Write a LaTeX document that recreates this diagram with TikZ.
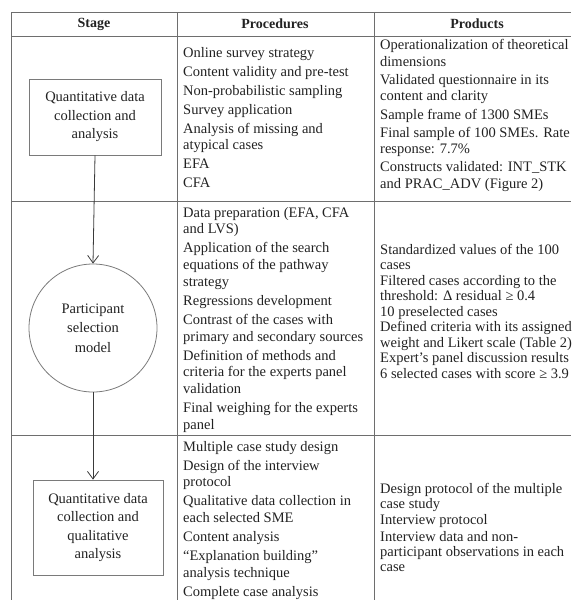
\documentclass[tikz,border=0pt]{standalone}
\usepackage{fontspec}
\setmainfont{Liberation Serif}
\usetikzlibrary{arrows.meta}
\definecolor{gridcol}{HTML}{6E6E6E}
\definecolor{boxcol}{HTML}{7A7A7A}
\definecolor{arrcol}{HTML}{3A3A3A}
\definecolor{txt}{HTML}{222222}
\begin{document}
\begin{tikzpicture}[x=1pt,y=-1pt,
  grid/.style={draw=gridcol,line width=0.9pt},
  cell/.style={anchor=north west,inner sep=0pt,align=left,text=txt,font=\fontsize{14.5}{16.7}\selectfont},
  tightcell/.style={cell,font=\fontsize{14.5}{15.2}\selectfont},
  head/.style={inner sep=0pt,text=txt,font=\fontsize{14}{16}\selectfont\bfseries},
  stagebox/.style={draw=boxcol,line width=0.8pt,rectangle,align=center,text=txt,inner sep=0pt,font=\fontsize{14.5}{18.5}\selectfont},
  stagecirc/.style={draw=boxcol,line width=0.8pt,circle,minimum size=128pt,inner sep=0pt,align=center,text=txt,font=\fontsize{14.5}{19.5}\selectfont},
  arr/.style={draw=arrcol,line width=0.8pt,-{Straight Barb[length=7.5pt,width=11pt]}}
]
\useasboundingbox (0,0) rectangle (571,600);
% table grid
\draw[grid] (11,12) -- (571,12);
\draw[grid] (11,36) -- (571,36);
\draw[grid] (11,201) -- (571,201);
\draw[grid] (11,435) -- (571,435);
\draw[grid] (11,12) -- (11,600);
\draw[grid] (177,12) -- (177,600);
\draw[grid] (374,12) -- (374,600);
% header
\node[head] (hstage) at (94,24) {Stage};
\node[head] (hproc) at (275,24) {Procedures};
\node[head] (hprod) at (477,24) {Products};
% stages
\node[stagebox,minimum width=132pt,minimum height=76pt] (s1) at (95,117) {Quantitative data\\collection and\\analysis};
\node[stagecirc] (s2) at (93,328) {Participant\\selection\\model};
\node[stagebox,minimum width=130pt,minimum height=95pt] (s3) at (98,527.5) {Quantitative data\\collection and\\qualitative\\analysis};
\draw[arr] (s1.south) -- (s2.north);
\draw[arr] (s2.south) -- (s2.south |- s3.north);
% row 1
\node[cell] (p1) at (183,47) {Online survey strategy\\[2.3pt]
Content validity and pre-test\\[2.3pt]
Non-probabilistic sampling\\[2.3pt]
Survey application\\[2.3pt]
Analysis of missing and\\
atypical cases\\[2.3pt]
EFA\\[2.3pt]
CFA};
\node[cell] (q1) at (380,39) {Operationalization of theoretical\\
dimensions\\[1.4pt]
Validated questionnaire in its\\
content and clarity\\[1.4pt]
Sample frame of 1300 SMEs\\[1.4pt]
Final sample of 100 SMEs. Rate\\
response: 7.7\%\\[1.4pt]
Constructs validated: INT\_STK\\
and PRAC\_ADV (Figure 2)};
% row 2
\node[cell] (p2) at (183,207) {Data preparation (EFA, CFA\\
and LVS)\\[2.3pt]
Application of the search\\
equations of the pathway\\
strategy\\[2.3pt]
Regressions development\\[2.3pt]
Contrast of the cases with\\
primary and secondary sources\\[2.3pt]
Definition of methods and\\
criteria for the experts panel\\
validation\\[2.3pt]
Final weighing for the experts\\
panel};
\node[tightcell] (q2) at (380,244) {Standardized values of the 100\\
cases\\[0.5pt]
Filtered cases according to the\\
threshold: Δ residual ≥ 0.4\\[0.5pt]
10 preselected cases\\[0.5pt]
Defined criteria with its assigned\\
weight and Likert scale (Table 2)\\[0.5pt]
Expert’s panel discussion results\\[0.5pt]
6 selected cases with score ≥ 3.9};
% row 3
\node[cell] (p3) at (183,441) {Multiple case study design\\[2.3pt]
Design of the interview\\
protocol\\[2.3pt]
Qualitative data collection in\\
each selected SME\\[2.3pt]
Content analysis\\[2.3pt]
“Explanation building”\\
analysis technique\\[2.3pt]
Complete case analysis};
\node[tightcell] (q3) at (380,483) {Design protocol of the multiple\\
case study\\[1pt]
Interview protocol\\[1pt]
Interview data and non-\\
participant observations in each\\
case};
\end{tikzpicture}
\end{document}
